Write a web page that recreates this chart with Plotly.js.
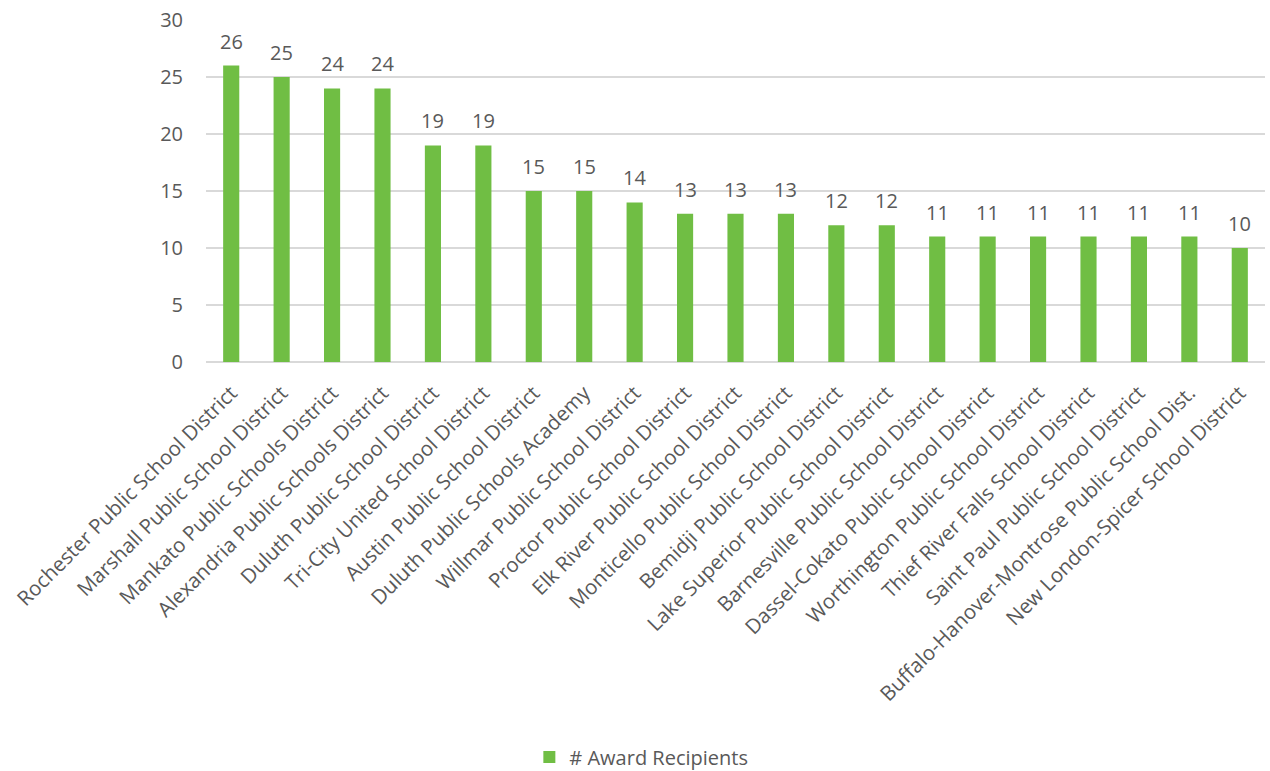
<!DOCTYPE html>
<html><head><meta charset="utf-8">
<script src="https://cdn.plot.ly/plotly-3.0.1.min.js"></script>
<style>html,body{margin:0;padding:0;background:#fff}#c{width:1270px;height:771px}</style>
</head><body><div id="c"></div>
<script>
const districts = [
  "Rochester Public School District","Marshall Public School District","Mankato Public Schools District",
  "Alexandria Public Schools District","Duluth Public School District","Tri-City United School District",
  "Austin Public School District","Duluth Public Schools Academy","Willmar Public School District",
  "Proctor Public School District","Elk River Public School District","Monticello Public School District",
  "Bemidji Public School District","Lake Superior Public School District","Barnesville Public School District",
  "Dassel-Cokato Public School District","Worthington Public School District","Thief River Falls School District",
  "Saint Paul Public School District","Buffalo-Hanover-Montrose Public School Dist.","New London-Spicer School District"
];
const recipients = [26,25,24,24,19,19,15,15,14,13,13,13,12,12,11,11,11,11,11,11,10];
const yTicks = [0,5,10,15,20,25,30];

const font = "'Open Sans', sans-serif";
const labels = districts.map((d,i)=>({
  x:d, y:recipients[i], xref:'x', yref:'y', text:String(recipients[i]), showarrow:false,
  yanchor:'bottom', yshift:9, font:{size:20,color:'#595959',family:font}
}));
Plotly.newPlot('c', [{
  type:'bar', x:districts, y:recipients, name:'# Award Recipients',
  marker:{color:'#70BE44'}
}], {
  width:1270, height:771,
  margin:{l:206,r:5,t:20,b:409},
  bargap:0.68,
  paper_bgcolor:'#fff', plot_bgcolor:'#fff',
  font:{family:font,color:'#595959'},
  annotations:labels,
  xaxis:{tickangle:-45, tickfont:{size:20.5,color:'#595959'}, showgrid:false, showline:false, ticks:'',
         ticklabelstandoff:14, automargin:false},
  yaxis:{range:[0,30], tickvals:yTicks, tickfont:{size:20,color:'#595959'}, gridcolor:'#D9D9D9', gridwidth:1.3,
         zeroline:true, zerolinecolor:'#D9D9D9', zerolinewidth:1.3, ticks:'', ticklen:0, ticklabelstandoff:22,
         automargin:false},
  showlegend:true,
  legend:{orientation:'h', xref:'container', yref:'container', x:0.505, y:0.018, xanchor:'center', yanchor:'middle',
          font:{size:20,color:'#595959'}}
}, {displayModeBar:false, staticPlot:true});
</script></body></html>
